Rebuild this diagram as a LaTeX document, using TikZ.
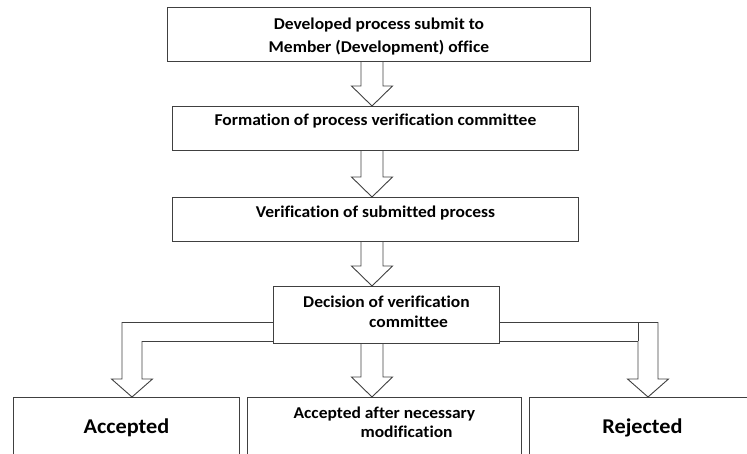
\documentclass[tikz,border=0pt]{standalone}
\usepackage{fontspec}
\setmainfont{Carlito}[FakeStretch=1.06, Ligatures=NoCommon]
\usetikzlibrary{calc, shadows}
\tikzset{
  box/.style   ={draw=black!75, line width=0.9bp, fill=white, inner sep=0pt, anchor=north west, align=center,
                 font=\bfseries\fontsize{16.5bp}{20bp}\selectfont,
                 drop shadow={shadow xshift=1bp, shadow yshift=-1bp, opacity=0.2}},
  bigbox/.style={box, font=\bfseries\fontsize{21bp}{24bp}\selectfont},
  blk/.style   ={draw=black!75, line width=0.9bp, line join=miter},
}
\newcommand{\blockdown}[2]{%
  \draw[blk] ($(#1)+(-11,0)$) -- ($(#2)+(-11,-20)$) -- ($(#2)+(-20.5,-20)$) -- (#2)
    -- ($(#2)+(20.5,-20)$) -- ($(#2)+(11,-20)$) -- ($(#1)+(11,0)$);}

\begin{document}
\begin{tikzpicture}[x=1bp, y=-1bp]
  \useasboundingbox (0,0) rectangle (747,454);
  \clip (0,0) rectangle (747,454);
  \node[box, minimum width=423bp, text height=45.5bp, text depth=8.5bp] (dev) at (167,7)
    {Developed process submit to\\[3bp]Member (Development) office};
  \node[box, minimum width=406bp, text height=19.5bp, text depth=24.5bp] (form) at (172,106)
    {Formation of process verification committee};
  \node[box, minimum width=406bp, text height=20bp, text depth=24bp] (verif) at (172,197)
    {Verification of submitted process};
  \node[box, align=left, minimum width=226bp, text height=41bp, text depth=16bp] (decis) at (273,286)
    {Decision of verification\\\hspace*{66bp}committee};
  \node[bigbox, minimum width=226bp, text height=36bp, text depth=47bp] (acc) at (13,397) {Accepted};
  \node[box, align=left, minimum width=274bp, text height=39.7bp, text depth=43.3bp] (mod) at (247,397)
    {Accepted after necessary\\[-1.6bp]\hspace*{67bp}modification};
  \node[bigbox, minimum width=226bp, text height=36bp, text depth=47bp] (rej) at (529,397) {Rejected};

  \coordinate (ax) at (372,0);
  \coordinate (lx) at (132,0);
  \coordinate (rx) at (648,0);
  \coordinate (lb) at ($(decis.west)+(0,17)$);
  \coordinate (rb) at ($(decis.east)+(0,17)$);

  \blockdown{dev.south -| ax}{form.north -| ax}
  \blockdown{form.south -| ax}{verif.north -| ax}
  \blockdown{verif.south -| ax}{decis.north -| ax}
  \blockdown{decis.south -| ax}{mod.north -| ax}

  \draw[blk] ($(lb)+(0,-9.5)$) -- ($(lb -| lx)+(-10,-9.5)$) -- ($(acc.north -| lx)+(-10,-18)$)
    -- ($(acc.north -| lx)+(-20.5,-18)$) -- (acc.north -| lx) -- ($(acc.north -| lx)+(20.5,-18)$)
    -- ($(acc.north -| lx)+(10,-18)$) -- ($(lb -| lx)+(10,9.5)$) -- ($(lb)+(0,9.5)$);
  \draw[blk] ($(rb)+(0,-9.5)$) -- ($(rb -| rx)+(10,-9.5)$) -- ($(rej.north -| rx)+(10,-18)$)
    -- ($(rej.north -| rx)+(20.5,-18)$) -- (rej.north -| rx) -- ($(rej.north -| rx)+(-20.5,-18)$)
    -- ($(rej.north -| rx)+(-10,-18)$) -- ($(rb -| rx)+(-10,9.5)$) -- ($(rb)+(0,9.5)$);
  \draw[blk] ($(rb -| rx)+(-10,-9.5)$) -- ($(rb -| rx)+(-10,9.5)$);
\end{tikzpicture}
\end{document}
